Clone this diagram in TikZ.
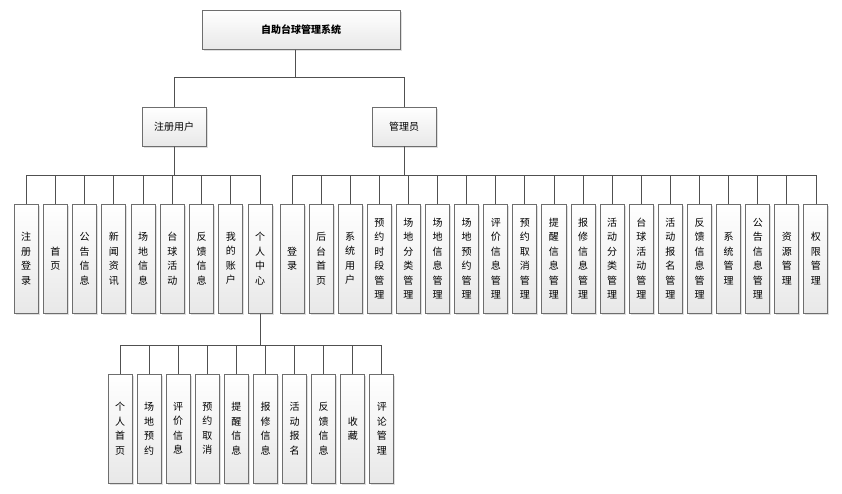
\documentclass[tikz,border=0pt]{standalone}
\usepackage{fontspec}
\setmainfont{Noto Sans CJK SC}
\usetikzlibrary{shadows}
\definecolor{boxline}{HTML}{6E6E6E}
\definecolor{conn}{HTML}{505050}
\tikzset{
  box/.style={draw=boxline, line width=1pt, top color=white, bottom color=black!9,
    drop shadow={opacity=0.25, shadow xshift=1.5pt, shadow yshift=-1.5pt},
    inner sep=0pt, align=center},
  topbox/.style={box, minimum width=198pt, minimum height=39pt, font=\bfseries\fontsize{10}{12}\selectfont},
  midbox/.style={box, minimum width=64pt, minimum height=39pt, font=\fontsize{10}{12}\selectfont},
  leaf/.style={box, minimum width=24pt, minimum height=109pt, font=\fontsize{10}{14.5}\selectfont},
  link/.style={draw=conn, line width=0.9pt}
}
\begin{document}
\begin{tikzpicture}[x=1pt,y=-1pt]
\useasboundingbox[fill=white] (0,0) rectangle (842,493);
\coordinate (b0) at (0,77);
\coordinate (b1) at (0,175);
\coordinate (b2) at (0,345);

\node[topbox] (root) at (301,29.5) {自助台球管理系统};
\node[midbox] (user) at (174,126.5) {注册用户};
\node[midbox] (admin) at (404,126.5) {管理员};

% left leaves
\foreach \n/\t [count=\i from 0] in {
  u1/{注\\册\\登\\录}, u2/{首\\页}, u3/{公\\告\\信\\息}, u4/{新\\闻\\资\\讯},
  u5/{场\\地\\信\\息}, u6/{台\\球\\活\\动}, u7/{反\\馈\\信\\息}, u8/{我\\的\\账\\户},
  u9/{个\\人\\中\\心}}
  \node[leaf] (\n) at (26+29.25*\i,258.5) {\t};

% right leaves
\foreach \n/\t [count=\i from 0] in {
  a1/{登\\录}, a2/{后\\台\\首\\页}, a3/{系\\统\\用\\户}, a4/{预\\约\\时\\段\\管\\理},
  a5/{场\\地\\分\\类\\管\\理}, a6/{场\\地\\信\\息\\管\\理}, a7/{场\\地\\预\\约\\管\\理},
  a8/{评\\价\\信\\息\\管\\理}, a9/{预\\约\\取\\消\\管\\理}, a10/{提\\醒\\信\\息\\管\\理},
  a11/{报\\修\\信\\息\\管\\理}, a12/{活\\动\\分\\类\\管\\理}, a13/{台\\球\\活\\动\\管\\理},
  a14/{活\\动\\报\\名\\管\\理}, a15/{反\\馈\\信\\息\\管\\理}, a16/{系\\统\\管\\理},
  a17/{公\\告\\信\\息\\管\\理}, a18/{资\\源\\管\\理}, a19/{权\\限\\管\\理}}
  \node[leaf] (\n) at (292+29.11*\i,258.5) {\t};

% bottom leaves
\foreach \n/\t [count=\i from 0] in {
  p1/{个\\人\\首\\页}, p2/{场\\地\\预\\约}, p3/{评\\价\\信\\息}, p4/{预\\约\\取\\消},
  p5/{提\\醒\\信\\息}, p6/{报\\修\\信\\息}, p7/{活\\动\\报\\名}, p8/{反\\馈\\信\\息},
  p9/{收\\藏}, p10/{评\\论\\管\\理}}
  \node[leaf] (\n) at (120+29.1*\i,428.5) {\t};

% connectors
\foreach \c in {user,admin}
  \draw[link] ([xshift=-6pt]root.south) -- ([xshift=-6pt]root.south |- b0) -| (\c.north);
\foreach \c in {u1,u2,u3,u4,u5,u6,u7,u8,u9}
  \draw[link] (user.south) -- (user.south |- b1) -| (\c.north);
\foreach \c in {a1,a2,a3,a4,a5,a6,a7,a8,a9,a10,a11,a12,a13,a14,a15,a16,a17,a18,a19}
  \draw[link] (admin.south) -- (admin.south |- b1) -| (\c.north);
\foreach \c in {p1,p2,p3,p4,p5,p6,p7,p8,p9,p10}
  \draw[link] (u9.south) -- (u9.south |- b2) -| (\c.north);
\end{tikzpicture}
\end{document}
